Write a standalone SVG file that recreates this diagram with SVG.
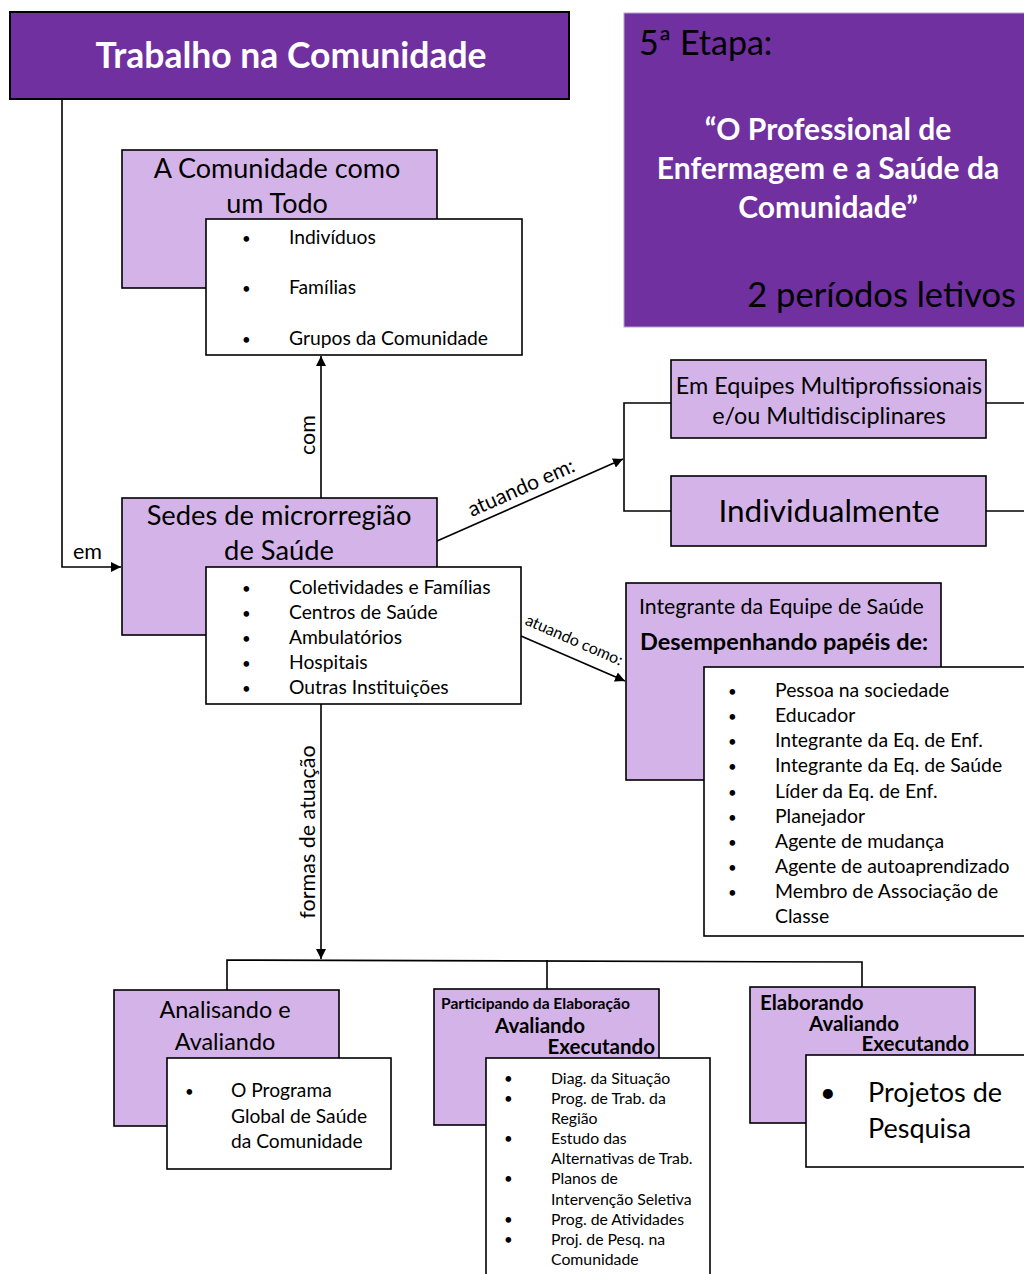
<svg xmlns="http://www.w3.org/2000/svg" width="1024" height="1274" viewBox="0 0 1024 1274">
  <defs>
    <marker id="arrow" viewBox="0 0 10 10" refX="10" refY="5" markerWidth="10" markerHeight="10" markerUnits="userSpaceOnUse" orient="auto">
      <path d="M0,0 L10,5 L0,10 z" fill="#000"/>
    </marker>
    <style>
      text { font-family: Lato, "Noto Sans", "Liberation Sans", sans-serif; fill: #000; }
      .dark { fill: #7030A0; stroke: #000; stroke-width: 2; }
      .light { fill: #D4B4E8; stroke: #000; stroke-width: 1.6; }
      .list { fill: #fff; stroke: #000; stroke-width: 1.6; }
      .conn { fill: none; stroke: #000; stroke-width: 1.6; }
      .white { fill: #fff; font-weight: bold; }
      .b { font-weight: bold; }
      .mid { text-anchor: middle; }
      .dot { font-size: 15px; }
    </style>
  </defs>
  <rect width="1024" height="1274" fill="#fff"/>

  <!-- title -->
  <g id="title">
    <rect class="dark" x="10" y="12" width="559" height="87"/>
    <text class="white mid" x="291" y="68" font-size="35.5">Trabalho na Comunidade</text>
  </g>

  <!-- stage panel -->
  <g id="stage">
    <rect x="624" y="13" width="402" height="314" fill="#7030A0" stroke="#B9A0CF" stroke-width="1"/>
    <text x="639" y="55" font-size="34">5ª Etapa:</text>
    <text class="white mid" x="828" y="140" font-size="30">“O Professional de</text>
    <text class="white mid" x="828" y="179" font-size="30">Enfermagem e a Saúde da</text>
    <text class="white mid" x="828" y="218" font-size="30">Comunidade”</text>
    <text x="1016" y="307" font-size="34.5" text-anchor="end">2 períodos letivos</text>
  </g>

  <!-- connectors -->
  <g id="connectors">
    <polyline class="conn" points="62,99 62,567 121,567" marker-end="url(#arrow)"/>
    <line class="conn" x1="321" y1="498" x2="321" y2="356" marker-end="url(#arrow)"/>
    <line class="conn" x1="437" y1="541" x2="623" y2="459" marker-end="url(#arrow)"/>
    <polyline class="conn" points="671,403 624,403 624,511 671,511"/>
    <line class="conn" x1="986" y1="403" x2="1024" y2="403"/>
    <line class="conn" x1="986" y1="511" x2="1024" y2="511"/>
    <line class="conn" x1="521" y1="636" x2="625" y2="681" marker-end="url(#arrow)"/>
    <line class="conn" x1="321" y1="704" x2="321" y2="959" marker-end="url(#arrow)"/>
    <polyline class="conn" points="227,990 227,960 862,962 862,987"/>
    <line class="conn" x1="547" y1="960" x2="547" y2="989"/>
    <text x="73" y="559" font-size="21.5">em</text>
    <text x="0" y="0" font-size="21.5" class="mid" transform="translate(315,435) rotate(-90)">com</text>
    <text x="0" y="0" font-size="21" class="mid" transform="translate(524,494) rotate(-23.8)">atuando em:</text>
    <text x="0" y="0" font-size="16" class="mid" transform="translate(572,645) rotate(23.5)">atuando como:</text>
    <text x="0" y="0" font-size="21.5" class="mid" transform="translate(315,832) rotate(-90)">formas de atuação</text>
  </g>

  <!-- community as a whole -->
  <g id="comunidade">
    <rect class="light" x="122" y="150" width="315" height="138"/>
    <text class="mid" x="277" y="178" font-size="27">A Comunidade como</text>
    <text class="mid" x="277" y="213" font-size="27">um Todo</text>
    <rect class="list" x="206" y="219" width="316" height="136"/>
    <g font-size="19.3">
      <text class="dot" x="242" y="244">•</text><text x="289" y="244">Indivíduos</text>
      <text class="dot" x="242" y="294">•</text><text x="289" y="294">Famílias</text>
      <text class="dot" x="242" y="345">•</text><text x="289" y="345">Grupos da Comunidade</text>
    </g>
  </g>

  <!-- health microregion -->
  <g id="sedes">
    <rect class="light" x="122" y="498" width="315" height="137"/>
    <text class="mid" x="279" y="525" font-size="27.3">Sedes de microrregião</text>
    <text class="mid" x="279" y="560" font-size="27.3">de Saúde</text>
    <rect class="list" x="206" y="567" width="315" height="137"/>
    <g font-size="19.3">
      <text class="dot" x="242" y="594">•</text><text x="289" y="594">Coletividades e Famílias</text>
      <text class="dot" x="242" y="619">•</text><text x="289" y="619">Centros de Saúde</text>
      <text class="dot" x="242" y="644">•</text><text x="289" y="644">Ambulatórios</text>
      <text class="dot" x="242" y="669">•</text><text x="289" y="669">Hospitais</text>
      <text class="dot" x="242" y="694">•</text><text x="289" y="694">Outras Instituições</text>
    </g>
  </g>

  <!-- teams -->
  <g id="equipes">
    <rect class="light" x="671" y="360" width="315" height="78"/>
    <text class="mid" x="829" y="394" font-size="23.4">Em Equipes Multiprofissionais</text>
    <text class="mid" x="829" y="424" font-size="23.4">e/ou Multidisciplinares</text>
  </g>

  <g id="individualmente">
    <rect class="light" x="671" y="476" width="315" height="70"/>
    <text class="mid" x="829" y="522" font-size="31.5">Individualmente</text>
  </g>

  <!-- roles -->
  <g id="integrante">
    <rect class="light" x="626" y="583" width="315" height="197"/>
    <text x="639" y="614" font-size="21.3">Integrante da Equipe de Saúde</text>
    <text class="b" x="640" y="650" font-size="23.5">Desempenhando papéis de:</text>
    <rect class="list" x="704" y="667" width="330" height="269"/>
    <g font-size="19.4">
      <text class="dot" x="728" y="697">•</text><text x="775" y="697">Pessoa na sociedade</text>
      <text class="dot" x="728" y="722">•</text><text x="775" y="722">Educador</text>
      <text class="dot" x="728" y="747">•</text><text x="775" y="747">Integrante da Eq. de Enf.</text>
      <text class="dot" x="728" y="772">•</text><text x="775" y="772">Integrante da Eq. de Saúde</text>
      <text class="dot" x="728" y="798">•</text><text x="775" y="798">Líder da Eq. de Enf.</text>
      <text class="dot" x="728" y="823">•</text><text x="775" y="823">Planejador</text>
      <text class="dot" x="728" y="848">•</text><text x="775" y="848">Agente de mudança</text>
      <text class="dot" x="728" y="873">•</text><text x="775" y="873">Agente de autoaprendizado</text>
      <text class="dot" x="728" y="898">•</text><text x="775" y="898">Membro de Associação de</text>
      <text x="775" y="923">Classe</text>
    </g>
  </g>

  <!-- analysing -->
  <g id="analisando">
    <rect class="light" x="114" y="990" width="225" height="136"/>
    <text class="mid" x="225" y="1018" font-size="23.4">Analisando e</text>
    <text class="mid" x="225" y="1050" font-size="23.4">Avaliando</text>
    <rect class="list" x="167" y="1058" width="224" height="111"/>
    <g font-size="19.2">
      <text class="dot" x="185" y="1097">•</text><text x="231" y="1097">O Programa</text>
      <text x="231" y="1123">Global de Saúde</text>
      <text x="231" y="1148">da Comunidade</text>
    </g>
  </g>

  <!-- participating -->
  <g id="participando">
    <rect class="light" x="434" y="989" width="225" height="136"/>
    <text class="b" x="441" y="1009" font-size="15.6">Participando da Elaboração</text>
    <text class="b" x="495" y="1033" font-size="20.5">Avaliando</text>
    <text class="b" x="655" y="1054" font-size="20.5" text-anchor="end">Executando</text>
    <rect class="list" x="486" y="1058" width="224" height="220"/>
    <g font-size="15.8">
      <text class="dot" x="504" y="1084">•</text><text x="551" y="1084">Diag. da Situação</text>
      <text class="dot" x="504" y="1104">•</text><text x="551" y="1104">Prog. de Trab. da</text>
      <text x="551" y="1124">Região</text>
      <text class="dot" x="504" y="1144">•</text><text x="551" y="1144">Estudo das</text>
      <text x="551" y="1164">Alternativas de Trab.</text>
      <text class="dot" x="504" y="1184">•</text><text x="551" y="1184">Planos de</text>
      <text x="551" y="1205">Intervenção Seletiva</text>
      <text class="dot" x="504" y="1225">•</text><text x="551" y="1225">Prog. de Atividades</text>
      <text class="dot" x="504" y="1245">•</text><text x="551" y="1245">Proj. de Pesq. na</text>
      <text x="551" y="1265">Comunidade</text>
    </g>
  </g>

  <!-- elaborating -->
  <g id="elaborando">
    <rect class="light" x="750" y="987" width="225" height="136"/>
    <text class="b" x="760" y="1010" font-size="20.5">Elaborando</text>
    <text class="b" x="809" y="1031" font-size="20.5">Avaliando</text>
    <text class="b" x="969" y="1051" font-size="20.5" text-anchor="end">Executando</text>
    <rect class="list" x="806" y="1055" width="228" height="112"/>
    <g font-size="27">
      <text x="820" y="1102">•</text><text x="868" y="1102">Projetos de</text>
      <text x="868" y="1138">Pesquisa</text>
    </g>
  </g>
</svg>
